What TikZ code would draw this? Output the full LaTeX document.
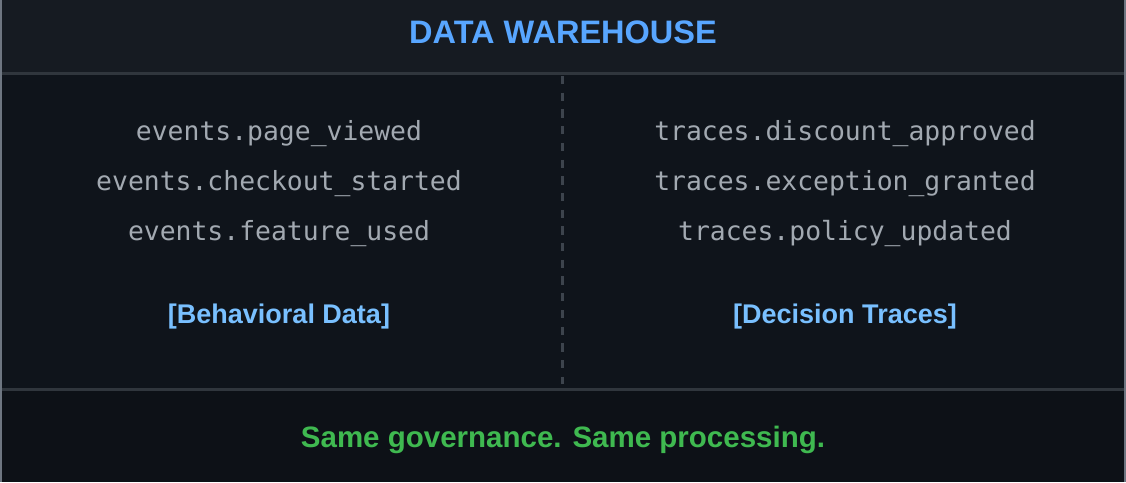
\documentclass[tikz,border=0pt]{standalone}
\usepackage{fontspec}
\setmainfont{Liberation Sans}
\setmonofont{DejaVu Sans Mono}
\usepackage{tikz}
\usetikzlibrary{calc}

\definecolor{headbg}{HTML}{161B22}
\definecolor{bodybg}{HTML}{0F141B}
\definecolor{footbg}{HTML}{0D1117}
\definecolor{rulegray}{HTML}{30363D}
\definecolor{dashgray}{HTML}{3D444D}
\definecolor{framegray}{HTML}{6E7681}
\definecolor{codegray}{HTML}{A2A9B1}
\definecolor{titleblue}{HTML}{58A6FF}
\definecolor{labelblue}{HTML}{79C0FF}
\definecolor{okgreen}{HTML}{3FB950}

\begin{document}
\begin{tikzpicture}[x=1pt,y=-1pt,inner sep=0,anchor=base]
% Text styles: title, table names, column labels, footer
\tikzstyle{title text}=[text=titleblue,font=\fontsize{32.5}{36}\selectfont\bfseries];
\tikzstyle{table name}=[text=codegray,font=\fontsize{26.4}{30}\selectfont\ttfamily];
\tikzstyle{column label}=[text=labelblue,font=\fontsize{27}{30}\selectfont\bfseries];
\tikzstyle{footer text}=[text=okgreen,font=\fontsize{29.5}{32}\selectfont\bfseries];
\useasboundingbox (0,0) rectangle (1126,482);
% Backgrounds of the three bands
\fill[headbg](0,0) rectangle (1126,73);
\fill[bodybg](0,73) rectangle (1126,389);
\fill[footbg](0,389) rectangle (1126,482);
\draw[rulegray,line width=3](0,73.5)--(1126,73.5);
\draw[rulegray,line width=3](0,389)--(1126,389);
\draw[framegray,line width=2](1,0)--(1,482);
\draw[framegray,line width=2](1125,0)--(1125,482);
% The header
\node(title)[title text] at (563,43.3){DATA WAREHOUSE};
% Left column
\node(ev1)[table name] at (279,140){events.page\_viewed};
\node(ev2)[table name] at (279,190.5){events.checkout\_started};
\node(ev3)[table name] at (279,240){events.feature\_used};
\node(behav)[column label] at (279,323.3){[Behavioral Data]};
% Right column
\node(tr1)[table name] at (845,140){traces.discount\_approved};
\node(tr2)[table name] at (845,190.5){traces.exception\_granted};
\node(tr3)[table name] at (845,240){traces.policy\_updated};
\node(decis)[column label] at (845,323.3){[Decision Traces]};
% Divider between the columns
\coordinate(divtop) at (562,76);
\coordinate(divbot) at (562,384);
\draw[dashgray,line width=3,dash pattern=on 8.3 off 8.4](divtop)--(divbot);
% The footer
\node(footer)[footer text] at (563,447.3){Same governance. Same processing.};
\end{tikzpicture}
\end{document}
